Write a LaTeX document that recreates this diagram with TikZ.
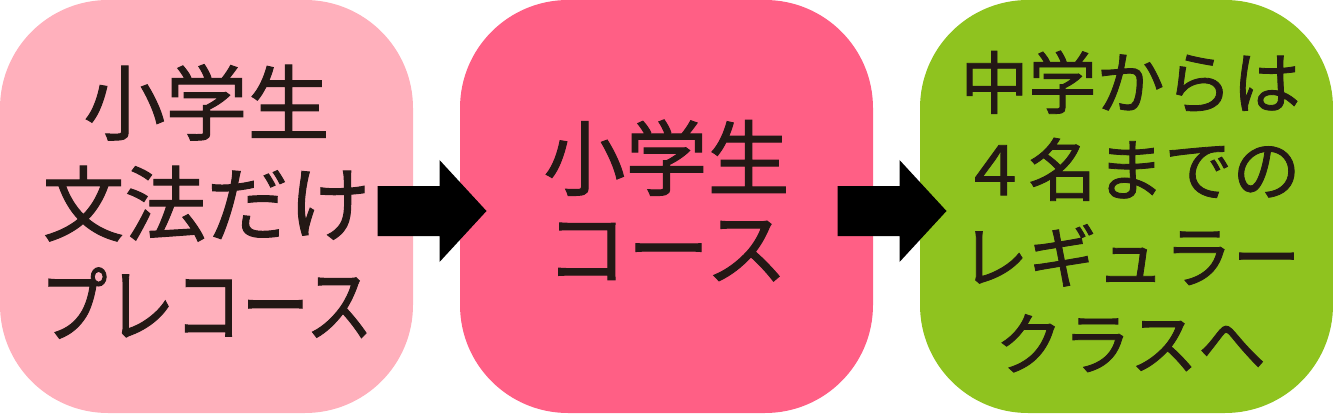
\documentclass[tikz,border=0pt]{standalone}
\usepackage{fontspec}
\usetikzlibrary{calc}
\newfontfamily\jp[FakeBold=1.2]{Noto Sans CJK JP}
\definecolor{pinkA}{HTML}{FFB0BC}
\definecolor{pinkB}{HTML}{FF5F85}
\definecolor{greenC}{HTML}{8FC31F}
\definecolor{ink}{HTML}{231815}
\tikzset{
  box/.style={minimum width=413pt, minimum height=413pt, rounded corners=108pt, inner sep=0pt, draw=none},
  label/.style={text=ink, align=center, inner sep=0pt, font=\jp},
  blockarrow/.style={fill=black}
}
\begin{document}
\begin{tikzpicture}[x=1pt,y=1pt]
\useasboundingbox (0,0) rectangle (1333,413);
\node[box, fill=pinkA] (b1) at (206.5,206.5) {};
\node[box, fill=pinkB] (b2) at (666.5,206.5) {};
\node[box, fill=greenC] (b3) at (1126.5,206.5) {};
\node[label, font=\jp\fontsize{82}{101}\selectfont] (t1) at ([yshift=5pt]b1.center) {小学生\\文法だけ\\\scalebox{0.82}[1]{プレコース}};
\node[label, font=\jp\fontsize{82}{90}\selectfont] (t2) at ([yshift=6pt]b2.center) {小学生\\コース};
\node[label, font=\jp\fontsize{68}{87}\selectfont] (t3) at ([xshift=4pt,yshift=-5pt]b3.center) {中学からは\\４名までの\\レギュラー\\クラスへ};
\coordinate (a1) at ($(b1.east)!0.5!(b2.west)+(0,-4.5)$);
\coordinate (a2) at ($(b2.east)!0.5!(b3.west)+(0,-4.5)$);
\fill[blockarrow] (a1) ++(-59,25) -- ++(62,0) -- ++(0,26) -- ++(47,-51) -- ++(-47,-51) -- ++(0,26) -- ++(-62,0) -- cycle;
\fill[blockarrow] (a2) ++(-59,25) -- ++(62,0) -- ++(0,26) -- ++(47,-51) -- ++(-47,-51) -- ++(0,26) -- ++(-62,0) -- cycle;
\end{tikzpicture}
\end{document}
